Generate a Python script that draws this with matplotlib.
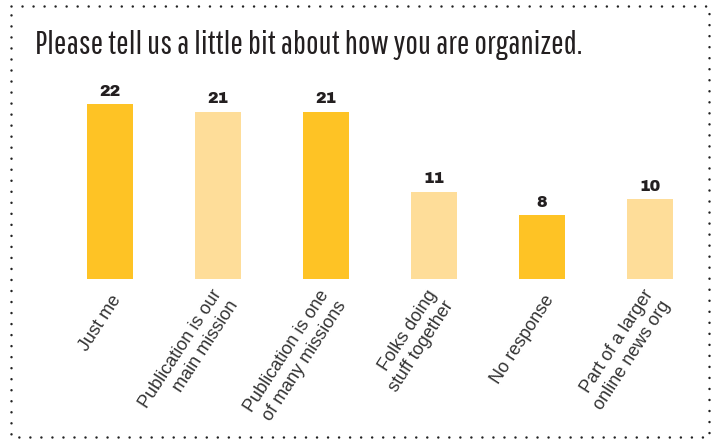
import matplotlib
matplotlib.use("Agg")
import matplotlib.pyplot as plt
import matplotlib.transforms as mtrans
from matplotlib.lines import Line2D

categories = [
    "Just me",
    "Publication is our\nmain mission",
    "Publication is one\nof many missions",
    "Folks doing\nstuff together",
    "No response",
    "Part of a larger\nonline news org",
]
counts = [22, 21, 21, 11, 8, 10]
title = "Please tell us a little bit about how you are organized."

DARK = "#FEC325"
LIGHT = "#FEDD99"
TEXT = "#231F20"

W, H, DPI = 717, 440, 100
fig = plt.figure(figsize=(W / DPI, H / DPI), dpi=DPI)

# plot area in pixel terms: bar centers 108 px apart, baseline at y=279 px
left_px, right_px = 56, 704
bottom_px = 279
ymax = 25
px_per_unit = 7.95
top_px = bottom_px - ymax * px_per_unit
ax = fig.add_axes([left_px / W, 1 - bottom_px / H,
                   (right_px - left_px) / W, (bottom_px - top_px) / H])

colors = [DARK if i % 2 == 0 else LIGHT for i in range(len(counts))]
x = list(range(len(counts)))
bars = ax.bar(x, counts, width=46 / 108, color=colors, linewidth=0)
ax.set_xlim(-0.5, len(counts) - 0.5)
ax.set_ylim(0, ymax)
ax.axis("off")

for rect, v in zip(bars, counts):
    ax.annotate(str(v), (rect.get_x() + rect.get_width() / 2, rect.get_height()),
                xytext=(0, 4), textcoords="offset points",
                ha="center", va="bottom", fontsize=11.5,
                family=["Archivo Black", "DejaVu Sans"], color=TEXT)

trans = ax.get_xaxis_transform()
off = mtrans.ScaledTranslation(8 / DPI, -18 / DPI, fig.dpi_scale_trans)
for xi, lab in zip(x, categories):
    ax.text(xi, 0, lab, transform=trans + off, rotation=57,
            rotation_mode="anchor", ha="right", va="center",
            multialignment="right", fontsize=13, linespacing=1.2,
            family=["Liberation Sans", "DejaVu Sans"], color="#333333", clip_on=False)

# condensed headline, sized to span 545 px
t = fig.text(35 / W, 1 - 54 / H, title, fontsize=20,
             family=["Pathway Gothic One", "Roboto Condensed", "DejaVu Sans"],
             color=TEXT, ha="left", va="baseline")
renderer = fig.canvas.get_renderer()
w = t.get_window_extent(renderer).width
t.set_fontsize(20 * 545 / w)

# dotted frame around the whole graphic
x0, x1 = 11 / W, 709 / W
y0, y1 = 1 - 437 / H, 1 - 6 / H
frame = Line2D([x0, x1, x1, x0, x0], [y1, y1, y0, y0, y1],
               transform=fig.transFigure, color="#222222", linewidth=1.8,
               linestyle=(0, (0.01, 4.4)), dash_capstyle="round",
               solid_joinstyle="round")
fig.add_artist(frame)

fig.savefig("out.png", dpi=DPI)
